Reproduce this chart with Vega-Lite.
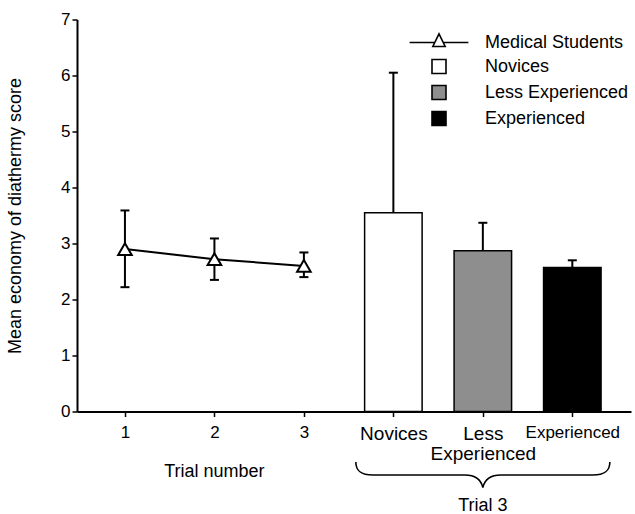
{
  "$schema": "https://vega.github.io/schema/vega-lite/v6.json",
  "width": 554,
  "height": 392,
  "autosize": {"type": "none"},
  "padding": {"left": 77, "top": 19.5, "right": 4, "bottom": 102.5},
  "background": "white",
  "config": {
    "view": {"stroke": null},
    "font": "Liberation Sans",
    "axis": {"grid": false, "domainColor": "black", "tickColor": "black", "labelColor": "black", "titleColor": "black"},
    "legend": {
      "title": null,
      "orient": "none",
      "legendX": 353,
      "legendY": 14,
      "padding": 0,
      "labelFontSize": 18,
      "labelColor": "black",
      "labelOffset": 37,
      "symbolSize": 196,
      "symbolStrokeWidth": 1.6,
      "symbolStrokeColor": "black",
      "symbolOpacity": 1,
      "rowPadding": 4
    }
  },
  "datasets": {
    "main": [
      {"pos": 1, "group": "Medical Students", "mean": 2.9, "lo": 2.22, "hi": 3.59},
      {"pos": 2, "group": "Medical Students", "mean": 2.72, "lo": 2.35, "hi": 3.09},
      {"pos": 3, "group": "Medical Students", "mean": 2.6, "lo": 2.4, "hi": 2.84},
      {"pos": 4, "group": "Novices", "mean": 3.55, "hi": 6.05},
      {"pos": 5, "group": "Less Experienced", "mean": 2.87, "hi": 3.37},
      {"pos": 6, "group": "Experienced", "mean": 2.57, "hi": 2.7}
    ],
    "notes": [
      {"pos": 2, "label": "Trial number"},
      {"pos": 5, "label": "Trial 3"}
    ]
  },
  "encoding": {
    "x": {
      "field": "pos",
      "type": "quantitative",
      "scale": {"domain": [0.52, 6.6], "nice": false, "zero": false},
      "axis": {
        "values": [1, 2, 3, 4, 5, 6],
        "title": null,
        "labelExpr": "datum.value == 4 ? 'Novices' : datum.value == 5 ? ['Less', 'Experienced'] : datum.value == 6 ? 'Experienced' : datum.label",
        "domainWidth": 2,
        "tickWidth": 1.5,
        "tickSize": 5,
        "labelPadding": 8,
        "labelFontSize": {"condition": {"test": "datum.value == 4 || datum.value == 5", "value": 19}, "value": 17},
        "labelLineHeight": 20,
        "labelFlush": false,
        "labelOverlap": false,
        "labelBound": false
      }
    }
  },
  "layer": [
    {
      "data": {"name": "main"},
      "transform": [{"filter": "datum.pos >= 4"}],
      "mark": {"type": "bar", "size": 57.5, "strokeWidth": 1.5},
      "encoding": {
        "y": {
          "field": "mean",
          "type": "quantitative",
          "scale": {"domain": [0, 7], "nice": false},
          "title": "Mean economy of diathermy score",
          "axis": {
            "values": [0, 1, 2, 3, 4, 5, 6, 7],
            "format": "d",
            "domainWidth": 2,
            "tickWidth": 1.5,
            "tickSize": 5,
            "labelPadding": 2,
            "labelFontSize": 17,
            "titleFontSize": 18,
            "titleFontWeight": "normal",
            "titlePadding": 36
          }
        },
        "fill": {
          "field": "group",
          "type": "nominal",
          "title": null,
          "scale": {
            "domain": ["Medical Students", "Novices", "Less Experienced", "Experienced"],
            "range": ["white", "white", "#8e8e8e", "black"]
          }
        },
        "stroke": {
          "field": "group",
          "type": "nominal",
          "title": null,
          "scale": {
            "domain": ["Medical Students", "Novices", "Less Experienced", "Experienced"],
            "range": ["black", "black", "black", "black"]
          }
        }
      }
    },
    {
      "data": {"name": "main"},
      "transform": [{"filter": "datum.pos <= 3"}],
      "mark": {"type": "point", "opacity": 0, "filled": true},
      "encoding": {
        "y": {"field": "mean", "type": "quantitative", "title": "Mean economy of diathermy score"},
        "fill": {"field": "group", "type": "nominal", "title": null},
        "stroke": {"field": "group", "type": "nominal", "title": null},
        "shape": {
          "field": "group",
          "type": "nominal",
          "title": null,
          "scale": {
            "domain": ["Medical Students", "Novices", "Less Experienced", "Experienced"],
            "range": ["M-4.2,0H-0.6M0.6,0H4.2M0,-1.24L0.88,0.57L-0.88,0.57Z", "square", "square", "square"]
          }
        }
      }
    },
    {
      "data": {"name": "main"},
      "transform": [{"filter": "datum.pos >= 4"}],
      "mark": {"type": "rule", "strokeWidth": 2, "color": "black"},
      "encoding": {
        "y": {"field": "mean", "type": "quantitative", "title": "Mean economy of diathermy score"},
        "y2": {"field": "hi"}
      }
    },
    {
      "data": {"name": "main"},
      "transform": [{"filter": "datum.pos <= 3"}],
      "mark": {"type": "rule", "strokeWidth": 2, "color": "black"},
      "encoding": {
        "y": {"field": "lo", "type": "quantitative", "title": "Mean economy of diathermy score"},
        "y2": {"field": "hi"}
      }
    },
    {
      "data": {"name": "main"},
      "mark": {"type": "tick", "orient": "horizontal", "size": 9, "thickness": 2, "color": "black", "opacity": 1},
      "encoding": {
        "y": {"field": "hi", "type": "quantitative", "title": "Mean economy of diathermy score"}
      }
    },
    {
      "data": {"name": "main"},
      "transform": [{"filter": "datum.pos <= 3"}],
      "mark": {"type": "tick", "orient": "horizontal", "size": 9, "thickness": 2, "color": "black", "opacity": 1},
      "encoding": {
        "y": {"field": "lo", "type": "quantitative", "title": "Mean economy of diathermy score"}
      }
    },
    {
      "data": {"name": "main"},
      "transform": [{"filter": "datum.pos <= 3"}],
      "mark": {"type": "line", "color": "black", "strokeWidth": 2},
      "encoding": {
        "y": {"field": "mean", "type": "quantitative", "title": "Mean economy of diathermy score"}
      }
    },
    {
      "data": {"name": "main"},
      "transform": [{"filter": "datum.pos <= 3"}],
      "mark": {"type": "point", "shape": "triangle-up", "size": 185, "filled": true, "fill": "white", "stroke": "black", "strokeWidth": 2, "opacity": 1},
      "encoding": {
        "y": {"field": "mean", "type": "quantitative", "title": "Mean economy of diathermy score"}
      }
    },
    {
      "data": {"name": "notes"},
      "transform": [{"filter": "datum.pos == 2"}],
      "mark": {"type": "text", "fontSize": 18, "align": "center", "baseline": "middle", "dy": 60, "color": "black"},
      "encoding": {
        "y": {"value": "height"},
        "text": {"field": "label"}
      }
    },
    {
      "data": {"name": "notes"},
      "transform": [{"filter": "datum.pos == 5"}],
      "mark": {"type": "text", "fontSize": 18, "align": "center", "baseline": "middle", "dy": 94.5, "color": "black"},
      "encoding": {
        "y": {"value": "height"},
        "text": {"field": "label"}
      }
    },
    {
      "data": {"name": "notes"},
      "transform": [{"filter": "datum.pos == 5"}],
      "mark": {
        "type": "point",
        "shape": "M-127,-13C-127,-4 -122,0 -110,0L-18,0C-8,0 -2,4 0,12.5C2,4 8,0 18,0L110,0C122,0 127,-4 127,-13",
        "size": 4,
        "filled": false,
        "stroke": "black",
        "strokeWidth": 1.6,
        "opacity": 1,
        "yOffset": 63.5
      },
      "encoding": {
        "y": {"value": "height"}
      }
    }
  ]
}
